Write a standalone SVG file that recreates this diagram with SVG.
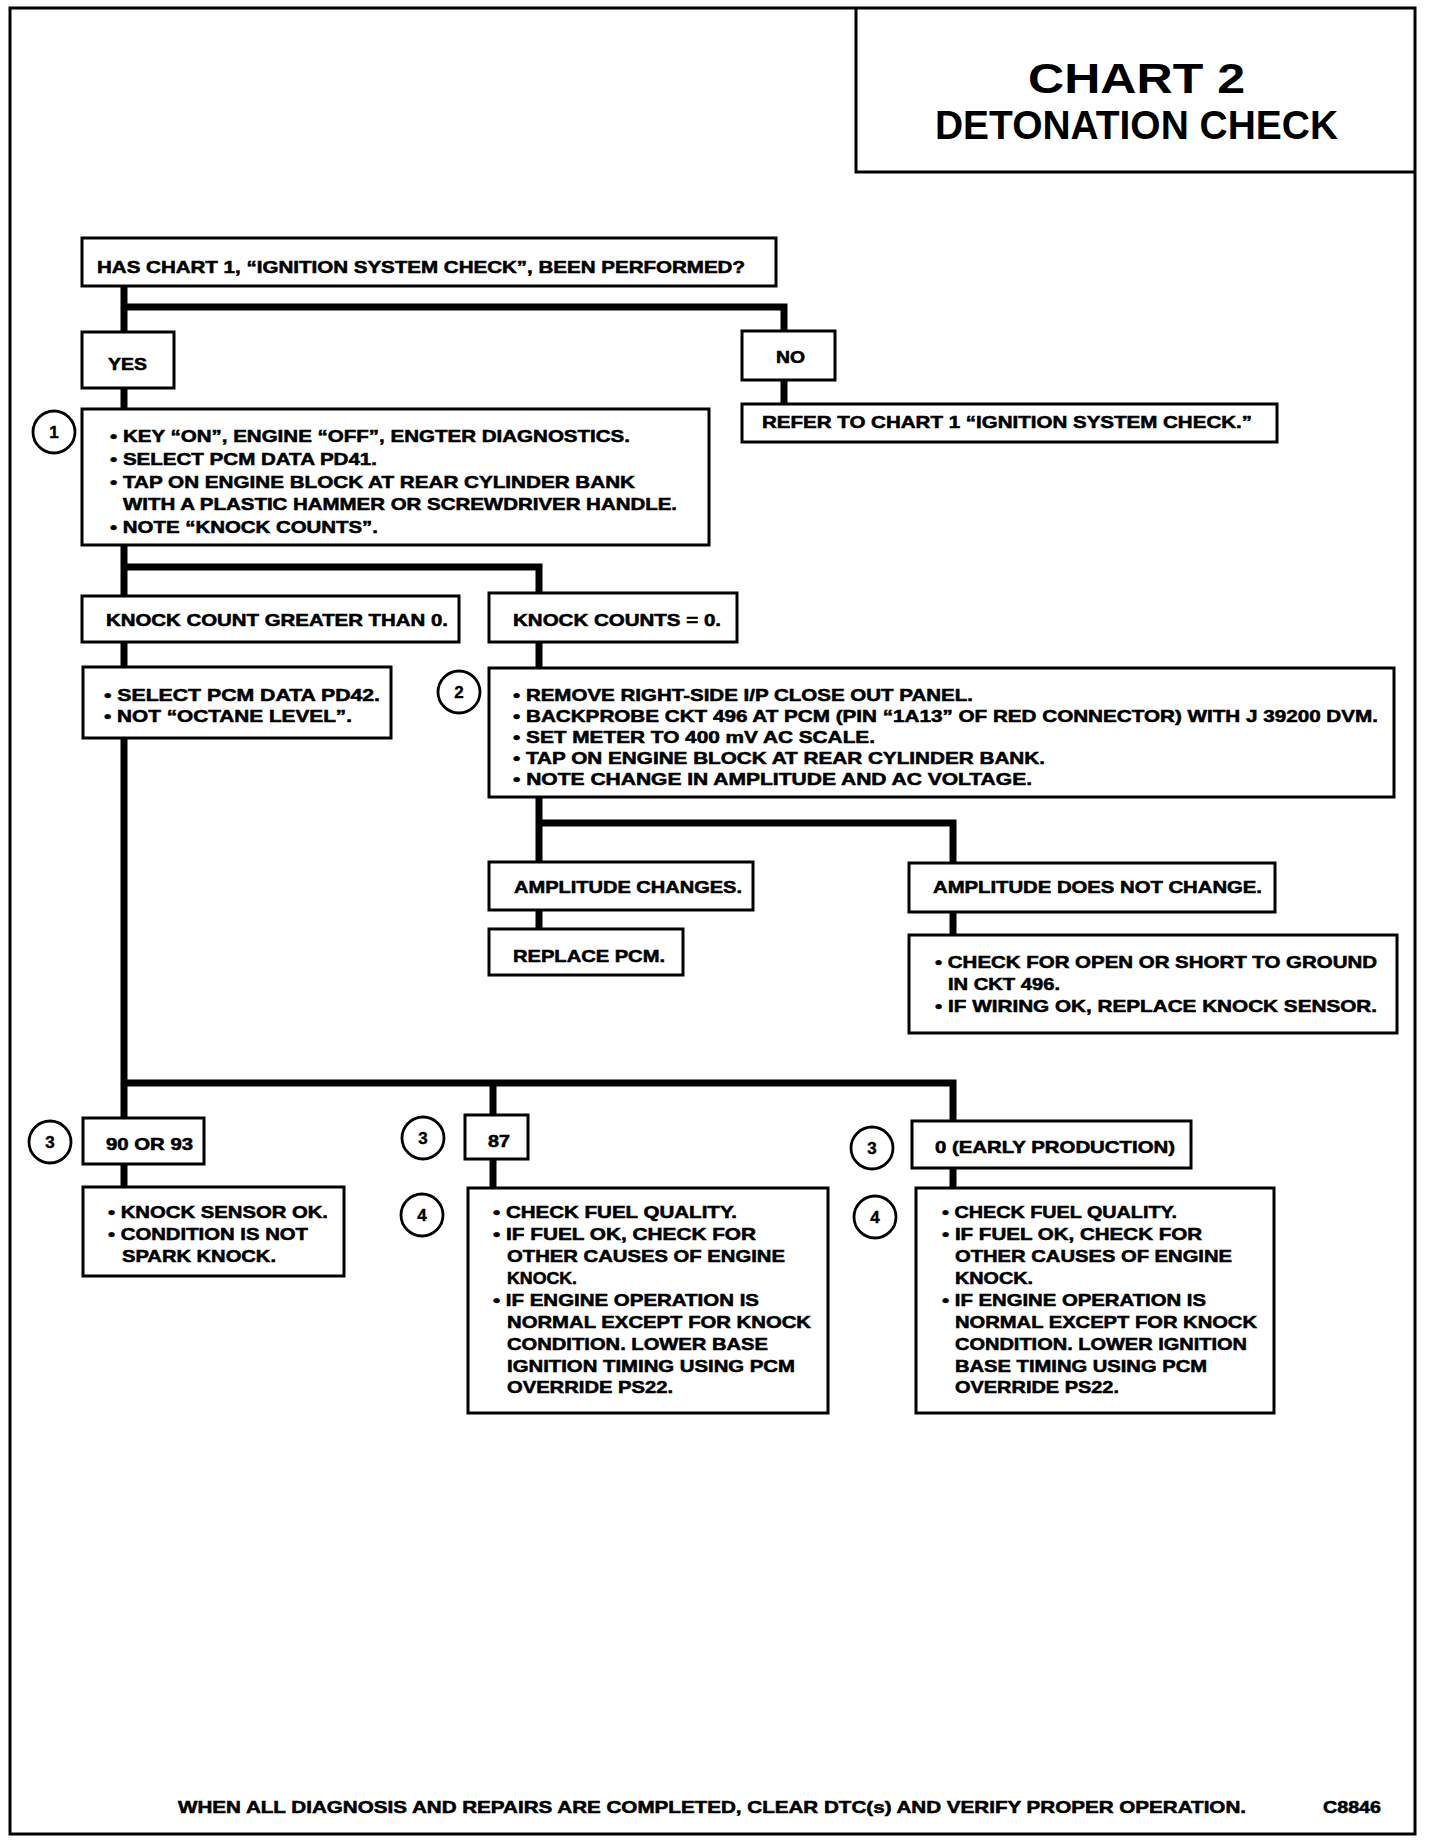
<svg xmlns="http://www.w3.org/2000/svg" width="1440" height="1846" viewBox="0 0 1440 1846">
<style>
.bx{fill:#fff;stroke:#000;stroke-width:3}
.cn{fill:none;stroke:#000;stroke-width:7;stroke-linejoin:miter}
.t{font-family:"Liberation Sans",Arial,sans-serif;font-weight:bold;font-size:17px;fill:#000;stroke:#000;stroke-width:0.55}
.ti{font-family:"Liberation Sans",Arial,sans-serif;font-weight:bold;fill:#000}
.ci{fill:#fff;stroke:#000;stroke-width:2.8}
.cl{font-family:"Liberation Sans",Arial,sans-serif;font-weight:bold;font-size:17px;fill:#000;stroke:#000;stroke-width:0.4;text-anchor:middle}
</style>
<rect x="0" y="0" width="1440" height="1846" fill="#fff"/>
<g id="frame">
<rect x="10" y="8" width="1405" height="1826" fill="none" stroke="#000" stroke-width="3"/>
<path d="M856,8 V172 H1415" fill="none" stroke="#000" stroke-width="3"/>
</g>
<g id="title">
<text class="ti" x="1028" y="93" font-size="42" textLength="217" lengthAdjust="spacingAndGlyphs">CHART 2</text>
<text class="ti" x="935" y="139" font-size="40" textLength="403" lengthAdjust="spacingAndGlyphs">DETONATION CHECK</text>
</g>
<g id="connectors">
<path class="cn" d="M124,286 V332 M124,307 H784 V331"/>
<path class="cn" d="M124,388 V409"/>
<path class="cn" d="M784,380 V404"/>
<path class="cn" d="M124,545 V596 M124,567 H539 V593"/>
<path class="cn" d="M124,642 V667"/>
<path class="cn" d="M124,738 V1118 M124,1083 H953 V1122 M493,1083 V1115"/>
<path class="cn" d="M539,642 V668"/>
<path class="cn" d="M539,797 V862 M539,823 H953 V863"/>
<path class="cn" d="M539,910 V929"/>
<path class="cn" d="M953,912 V935"/>
<path class="cn" d="M124,1164 V1187"/>
<path class="cn" d="M493,1159 V1188"/>
<path class="cn" d="M953,1168 V1188"/>
</g>
<g id="n-question">
<rect class="bx" x="82" y="238" width="694" height="48"/>
<text class="t" x="97" y="273" textLength="648" lengthAdjust="spacingAndGlyphs">HAS CHART 1, “IGNITION SYSTEM CHECK”, BEEN PERFORMED?</text>
</g>
<g id="n-yes">
<rect class="bx" x="82" y="332" width="92" height="56"/>
<text class="t" x="108" y="370" textLength="39" lengthAdjust="spacingAndGlyphs">YES</text>
</g>
<g id="n-no">
<rect class="bx" x="742" y="331" width="93" height="49"/>
<text class="t" x="776" y="363" textLength="29" lengthAdjust="spacingAndGlyphs">NO</text>
</g>
<g id="n-refer">
<rect class="bx" x="742" y="404" width="535" height="38"/>
<text class="t" x="762" y="428" textLength="490" lengthAdjust="spacingAndGlyphs">REFER TO CHART 1 “IGNITION SYSTEM CHECK.”</text>
</g>
<g id="n-step1">
<circle class="ci" cx="54" cy="432" r="21"/>
<text class="cl" x="54" y="438">1</text>
<rect class="bx" x="82" y="409" width="627" height="136"/>
<text class="t" x="110" y="442" textLength="520" lengthAdjust="spacingAndGlyphs">• KEY “ON”, ENGINE “OFF”, ENGTER DIAGNOSTICS.</text>
<text class="t" x="110" y="465" textLength="267" lengthAdjust="spacingAndGlyphs">• SELECT PCM DATA PD41.</text>
<text class="t" x="110" y="488" textLength="525" lengthAdjust="spacingAndGlyphs">• TAP ON ENGINE BLOCK AT REAR CYLINDER BANK</text>
<text class="t" x="123" y="510" textLength="554" lengthAdjust="spacingAndGlyphs">WITH A PLASTIC HAMMER OR SCREWDRIVER HANDLE.</text>
<text class="t" x="110" y="533" textLength="268" lengthAdjust="spacingAndGlyphs">• NOTE “KNOCK COUNTS”.</text>
</g>
<g id="n-kcg">
<rect class="bx" x="82" y="596" width="377" height="46"/>
<text class="t" x="106" y="626" textLength="342" lengthAdjust="spacingAndGlyphs">KNOCK COUNT GREATER THAN 0.</text>
</g>
<g id="n-kc0">
<rect class="bx" x="489" y="593" width="248" height="49"/>
<text class="t" x="513" y="626" textLength="208" lengthAdjust="spacingAndGlyphs">KNOCK COUNTS = 0.</text>
</g>
<g id="n-pd42">
<rect class="bx" x="83" y="667" width="308" height="71"/>
<text class="t" x="104" y="701" textLength="276" lengthAdjust="spacingAndGlyphs">• SELECT PCM DATA PD42.</text>
<text class="t" x="104" y="722" textLength="248" lengthAdjust="spacingAndGlyphs">• NOT “OCTANE LEVEL”.</text>
</g>
<g id="n-step2">
<circle class="ci" cx="459" cy="692" r="21"/>
<text class="cl" x="459" y="698">2</text>
<rect class="bx" x="489" y="668" width="905" height="129"/>
<text class="t" x="513" y="701" textLength="460" lengthAdjust="spacingAndGlyphs">• REMOVE RIGHT-SIDE I/P CLOSE OUT PANEL.</text>
<text class="t" x="513" y="722" textLength="865" lengthAdjust="spacingAndGlyphs">• BACKPROBE CKT 496 AT PCM (PIN “1A13” OF RED CONNECTOR) WITH J 39200 DVM.</text>
<text class="t" x="513" y="743" textLength="362" lengthAdjust="spacingAndGlyphs">• SET METER TO 400 mV AC SCALE.</text>
<text class="t" x="513" y="764" textLength="532" lengthAdjust="spacingAndGlyphs">• TAP ON ENGINE BLOCK AT REAR CYLINDER BANK.</text>
<text class="t" x="513" y="785" textLength="519" lengthAdjust="spacingAndGlyphs">• NOTE CHANGE IN AMPLITUDE AND AC VOLTAGE.</text>
</g>
<g id="n-ampch">
<rect class="bx" x="489" y="862" width="264" height="48"/>
<text class="t" x="514" y="893" textLength="228" lengthAdjust="spacingAndGlyphs">AMPLITUDE CHANGES.</text>
</g>
<g id="n-replace">
<rect class="bx" x="489" y="929" width="194" height="46"/>
<text class="t" x="513" y="962" textLength="152" lengthAdjust="spacingAndGlyphs">REPLACE PCM.</text>
</g>
<g id="n-ampdnc">
<rect class="bx" x="909" y="863" width="366" height="49"/>
<text class="t" x="933" y="893" textLength="329" lengthAdjust="spacingAndGlyphs">AMPLITUDE DOES NOT CHANGE.</text>
</g>
<g id="n-check">
<rect class="bx" x="909" y="935" width="488" height="98"/>
<text class="t" x="935" y="968" textLength="442" lengthAdjust="spacingAndGlyphs">• CHECK FOR OPEN OR SHORT TO GROUND</text>
<text class="t" x="948" y="990" textLength="112" lengthAdjust="spacingAndGlyphs">IN CKT 496.</text>
<text class="t" x="935" y="1012" textLength="442" lengthAdjust="spacingAndGlyphs">• IF WIRING OK, REPLACE KNOCK SENSOR.</text>
</g>
<g id="n-9093">
<circle class="ci" cx="50" cy="1142" r="21"/>
<text class="cl" x="50" y="1148">3</text>
<rect class="bx" x="83" y="1118" width="121" height="46"/>
<text class="t" x="106" y="1150" textLength="87" lengthAdjust="spacingAndGlyphs">90 OR 93</text>
</g>
<g id="n-ksok">
<rect class="bx" x="83" y="1187" width="261" height="89"/>
<text class="t" x="108" y="1218" textLength="220" lengthAdjust="spacingAndGlyphs">• KNOCK SENSOR OK.</text>
<text class="t" x="108" y="1240" textLength="200" lengthAdjust="spacingAndGlyphs">• CONDITION IS NOT</text>
<text class="t" x="122" y="1262" textLength="154" lengthAdjust="spacingAndGlyphs">SPARK KNOCK.</text>
</g>
<g id="n-87">
<circle class="ci" cx="423" cy="1138" r="21"/>
<text class="cl" x="423" y="1144">3</text>
<rect class="bx" x="465" y="1115" width="63" height="44"/>
<text class="t" x="488" y="1147" textLength="22" lengthAdjust="spacingAndGlyphs">87</text>
</g>
<g id="n-87body">
<circle class="ci" cx="422" cy="1215" r="21"/>
<text class="cl" x="422" y="1221">4</text>
<rect class="bx" x="468" y="1188" width="360" height="225"/>
<text class="t" x="493" y="1218" textLength="244" lengthAdjust="spacingAndGlyphs">• CHECK FUEL QUALITY.</text>
<text class="t" x="493" y="1240" textLength="263" lengthAdjust="spacingAndGlyphs">• IF FUEL OK, CHECK FOR</text>
<text class="t" x="507" y="1262" textLength="278" lengthAdjust="spacingAndGlyphs">OTHER CAUSES OF ENGINE</text>
<text class="t" x="507" y="1284" textLength="70" lengthAdjust="spacingAndGlyphs">KNOCK.</text>
<text class="t" x="493" y="1306" textLength="266" lengthAdjust="spacingAndGlyphs">• IF ENGINE OPERATION IS</text>
<text class="t" x="507" y="1328" textLength="304" lengthAdjust="spacingAndGlyphs">NORMAL EXCEPT FOR KNOCK</text>
<text class="t" x="507" y="1350" textLength="261" lengthAdjust="spacingAndGlyphs">CONDITION. LOWER BASE</text>
<text class="t" x="507" y="1372" textLength="288" lengthAdjust="spacingAndGlyphs">IGNITION TIMING USING PCM</text>
<text class="t" x="507" y="1393" textLength="166" lengthAdjust="spacingAndGlyphs">OVERRIDE PS22.</text>
</g>
<g id="n-early">
<circle class="ci" cx="872" cy="1148" r="21"/>
<text class="cl" x="872" y="1154">3</text>
<rect class="bx" x="912" y="1121" width="279" height="47"/>
<text class="t" x="935" y="1153" textLength="240" lengthAdjust="spacingAndGlyphs">0 (EARLY PRODUCTION)</text>
</g>
<g id="n-earlybody">
<circle class="ci" cx="875" cy="1217" r="21"/>
<text class="cl" x="875" y="1223">4</text>
<rect class="bx" x="916" y="1188" width="358" height="225"/>
<text class="t" x="942" y="1218" textLength="235" lengthAdjust="spacingAndGlyphs">• CHECK FUEL QUALITY.</text>
<text class="t" x="942" y="1240" textLength="260" lengthAdjust="spacingAndGlyphs">• IF FUEL OK, CHECK FOR</text>
<text class="t" x="955" y="1262" textLength="277" lengthAdjust="spacingAndGlyphs">OTHER CAUSES OF ENGINE</text>
<text class="t" x="955" y="1284" textLength="78" lengthAdjust="spacingAndGlyphs">KNOCK.</text>
<text class="t" x="942" y="1306" textLength="264" lengthAdjust="spacingAndGlyphs">• IF ENGINE OPERATION IS</text>
<text class="t" x="955" y="1328" textLength="302" lengthAdjust="spacingAndGlyphs">NORMAL EXCEPT FOR KNOCK</text>
<text class="t" x="955" y="1350" textLength="292" lengthAdjust="spacingAndGlyphs">CONDITION. LOWER IGNITION</text>
<text class="t" x="955" y="1372" textLength="252" lengthAdjust="spacingAndGlyphs">BASE TIMING USING PCM</text>
<text class="t" x="955" y="1393" textLength="164" lengthAdjust="spacingAndGlyphs">OVERRIDE PS22.</text>
</g>
<g id="footer">
<text class="t" x="178" y="1813" textLength="1068" lengthAdjust="spacingAndGlyphs">WHEN ALL DIAGNOSIS AND REPAIRS ARE COMPLETED, CLEAR DTC(s) AND VERIFY PROPER OPERATION.</text>
<text class="t" x="1323" y="1813" textLength="58" lengthAdjust="spacingAndGlyphs">C8846</text>
</g>
</svg>
